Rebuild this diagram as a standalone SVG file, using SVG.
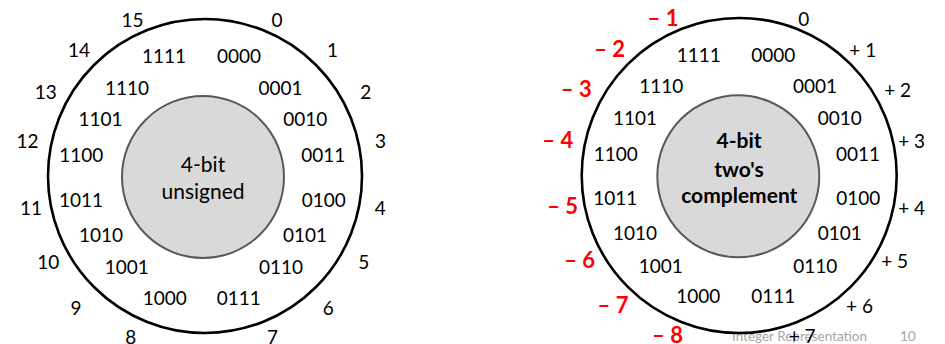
<svg xmlns="http://www.w3.org/2000/svg" width="945" height="344" viewBox="0 0 945 344">
  <style>
    text { font-family: Lato, "Open Sans", "Liberation Sans", sans-serif; fill: #000; text-anchor: middle; }
    .bits { font-size: 19px; }
    .num { font-size: 19px; }
    .neg { font-size: 22px; font-weight: bold; fill: #ff0000; }
    .hub { font-size: 21px; }
    .hubb { font-size: 21px; font-weight: bold; }
    .ring { fill: #fff; stroke: #000; stroke-width: 2.6; }
    .core { fill: #d9d9d9; stroke: #595959; stroke-width: 2; }
    .foot { font-size: 13.5px; fill: #a6a6a6; text-anchor: start; }
  </style>

  <!-- footer (drawn first so the +7 label sits on top) -->
  <g id="footer">
    <text class="foot" x="732" y="341">Integer Representation</text>
    <text class="foot" x="900" y="341">10</text>
  </g>

  <!-- 4-bit unsigned wheel -->
  <g id="wheel-unsigned">
    <circle class="ring" cx="205" cy="176" r="157"/>
    <circle class="core" cx="203" cy="177" r="81"/>
    <text class="hub" x="203" y="172">4-bit</text>
    <text class="hub" x="203" y="199">unsigned</text>
    <g>
      <text class="bits" x="164" y="63">1111</text>
      <text class="bits" x="239" y="63">0000</text>
      <text class="bits" x="127" y="95">1110</text>
      <text class="bits" x="280.5" y="95">0001</text>
      <text class="bits" x="100.5" y="126">1101</text>
      <text class="bits" x="305.3" y="126">0010</text>
      <text class="bits" x="81.3" y="161.7">1100</text>
      <text class="bits" x="323.3" y="161.7">0011</text>
      <text class="bits" x="81" y="206.7">1011</text>
      <text class="bits" x="323.7" y="206.7">0100</text>
      <text class="bits" x="101" y="241.7">1010</text>
      <text class="bits" x="305" y="241.7">0101</text>
      <text class="bits" x="126.7" y="274">1001</text>
      <text class="bits" x="281" y="274">0110</text>
      <text class="bits" x="164.7" y="305">1000</text>
      <text class="bits" x="238.7" y="305">0111</text>
    </g>
    <g>
      <text class="num" x="132.5" y="26.7">15</text>
      <text class="num" x="277" y="26.7">0</text>
      <text class="num" x="79" y="57.3">14</text>
      <text class="num" x="332.5" y="57.3">1</text>
      <text class="num" x="45.8" y="99">13</text>
      <text class="num" x="365.8" y="99">2</text>
      <text class="num" x="27.5" y="148.3">12</text>
      <text class="num" x="380.5" y="148.3">3</text>
      <text class="num" x="31" y="215">11</text>
      <text class="num" x="380.3" y="215">4</text>
      <text class="num" x="48.3" y="269.3">10</text>
      <text class="num" x="363.8" y="269.3">5</text>
      <text class="num" x="76" y="315">9</text>
      <text class="num" x="328.3" y="315">6</text>
      <text class="num" x="130.8" y="344">8</text>
      <text class="num" x="272.5" y="344">7</text>
    </g>
  </g>

  <!-- 4-bit two's complement wheel -->
  <g id="wheel-twos">
    <circle class="ring" cx="739.2" cy="175.5" r="157.5"/>
    <circle class="core" cx="738.3" cy="176.3" r="81"/>
    <text class="hubb" x="739" y="148.3">4-bit</text>
    <text class="hubb" x="739" y="176.7">two's</text>
    <text class="hubb" x="739.3" y="203.3">complement</text>
    <g>
      <text class="bits" x="698.7" y="61.7">1111</text>
      <text class="bits" x="773.3" y="61.7">0000</text>
      <text class="bits" x="661.3" y="92.7">1110</text>
      <text class="bits" x="815" y="92.7">0001</text>
      <text class="bits" x="635" y="125">1101</text>
      <text class="bits" x="839.7" y="125">0010</text>
      <text class="bits" x="615.7" y="160.7">1100</text>
      <text class="bits" x="858" y="160.7">0011</text>
      <text class="bits" x="615.3" y="205">1011</text>
      <text class="bits" x="858.3" y="205">0100</text>
      <text class="bits" x="635" y="240">1010</text>
      <text class="bits" x="839.7" y="240">0101</text>
      <text class="bits" x="660.8" y="272.7">1001</text>
      <text class="bits" x="815.3" y="272.7">0110</text>
      <text class="bits" x="698.3" y="303.3">1000</text>
      <text class="bits" x="773.3" y="303.3">0111</text>
    </g>
    <g>
      <text class="num" x="803.8" y="26">0</text>
      <text class="num" x="862.8" y="56.7">+ 1</text>
      <text class="num" x="897.7" y="97.3">+ 2</text>
      <text class="num" x="911.7" y="147.7">+ 3</text>
      <text class="num" x="911.7" y="215">+ 4</text>
      <text class="num" x="894.7" y="268.3">+ 5</text>
      <text class="num" x="859.5" y="312.7">+ 6</text>
      <text class="num" x="802.2" y="343">+ 7</text>
    </g>
    <g>
      <text class="neg" x="663" y="25.7">– 1</text>
      <text class="neg" x="609.7" y="56.7">– 2</text>
      <text class="neg" x="576.3" y="97.3">– 3</text>
      <text class="neg" x="557.8" y="147.7">– 4</text>
      <text class="neg" x="562.7" y="214.3">– 5</text>
      <text class="neg" x="579.7" y="268.3">– 6</text>
      <text class="neg" x="613" y="312.7">– 7</text>
      <text class="neg" x="667.5" y="343.3">– 8</text>
    </g>
  </g>
</svg>
